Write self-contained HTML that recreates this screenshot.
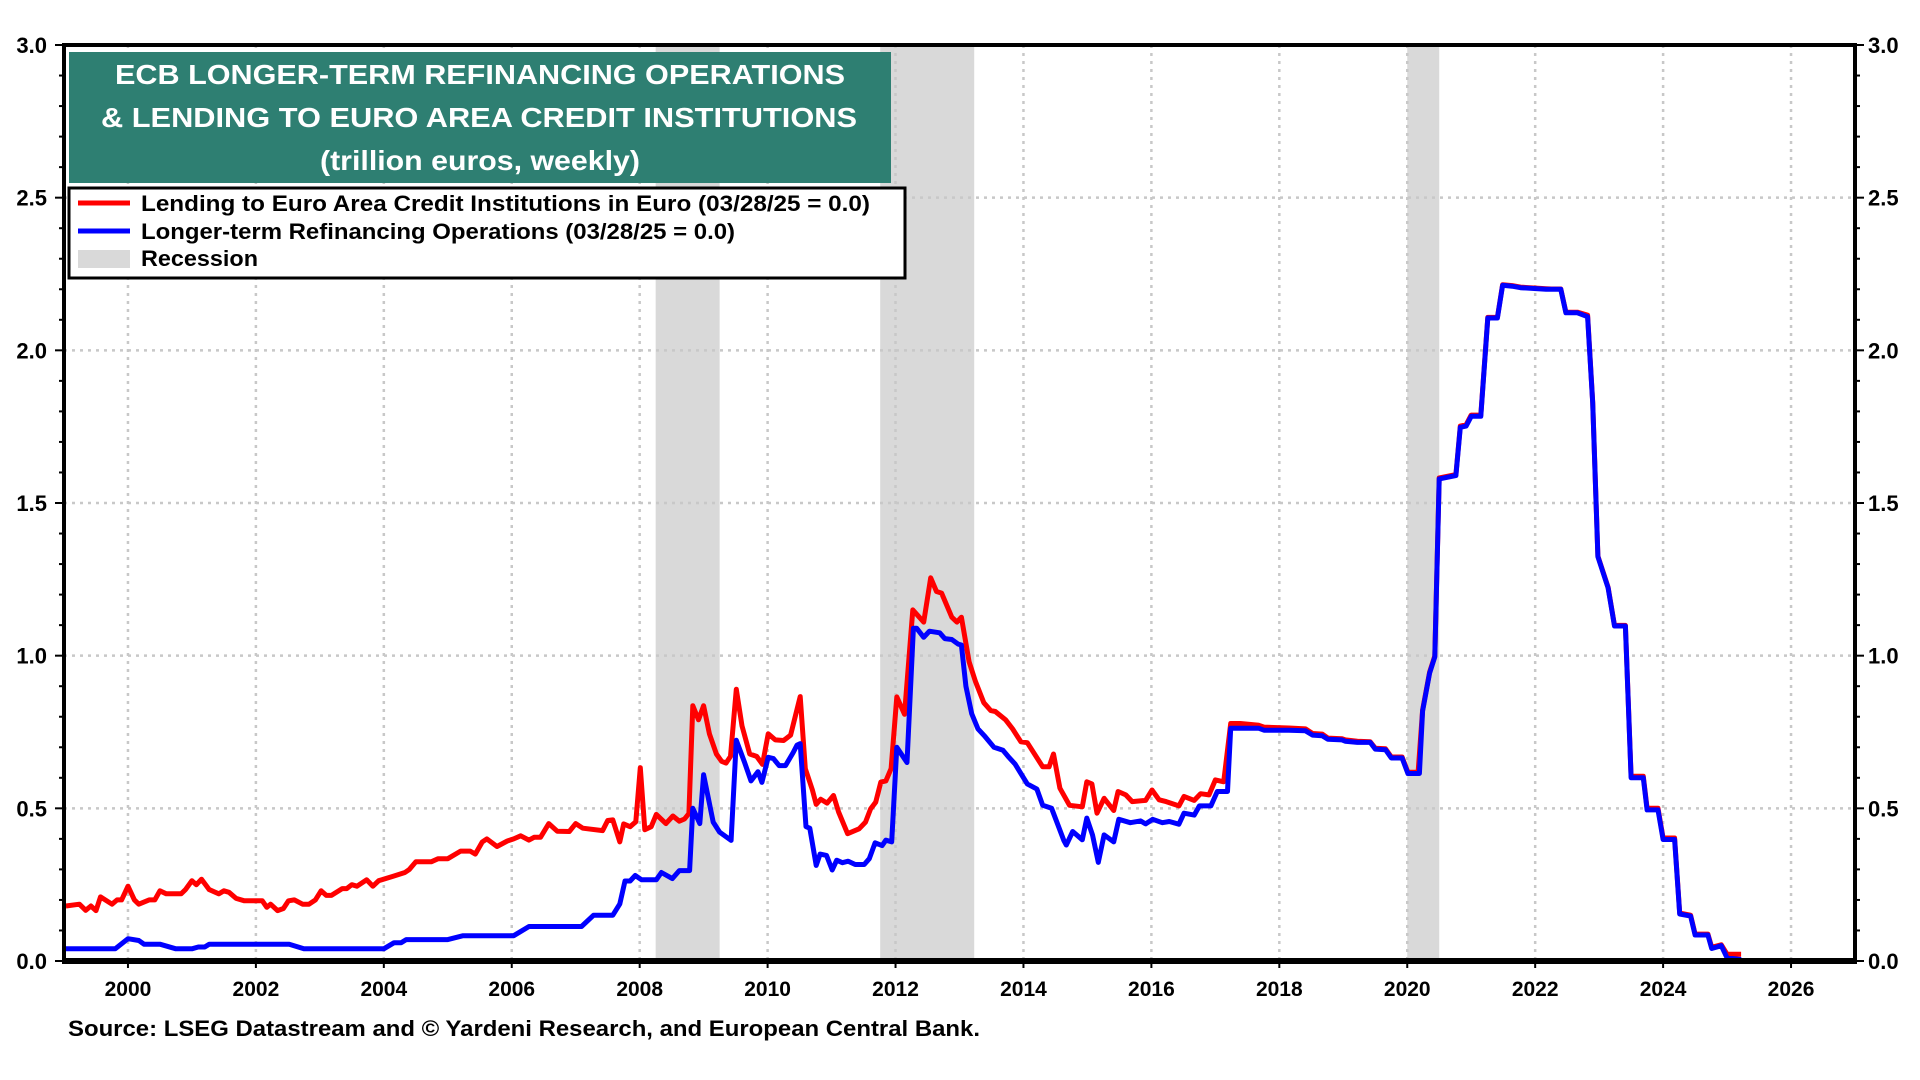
<!DOCTYPE html>
<html><head><meta charset="utf-8"><style>
html,body{margin:0;padding:0;background:#fff;}
svg{display:block;font-family:"Liberation Sans",Arial,sans-serif;font-weight:bold;}
</style></head><body>
<svg id="chart" width="1920" height="1080" viewBox="0 0 1920 1080" xmlns="http://www.w3.org/2000/svg">
<g id="rec"></g>
<g id="grid"></g>
<g id="series"></g>
<g id="axes"></g>
<g>
<rect x="69" y="52" width="822" height="131" fill="#2e7f72"/>
<text x="480" y="84" text-anchor="middle" fill="#fff" font-size="28" textLength="730" lengthAdjust="spacingAndGlyphs">ECB LONGER-TERM REFINANCING OPERATIONS</text>
<text x="479" y="127" text-anchor="middle" fill="#fff" font-size="28" textLength="756" lengthAdjust="spacingAndGlyphs">&amp; LENDING TO EURO AREA CREDIT INSTITUTIONS</text>
<text x="480" y="170" text-anchor="middle" fill="#fff" font-size="28" textLength="320" lengthAdjust="spacingAndGlyphs">(trillion euros, weekly)</text>
</g>
<g>
<rect x="69" y="188" width="836" height="90" fill="#fff" stroke="#000" stroke-width="3"/>
<line x1="78" y1="203" x2="130" y2="203" stroke="#ff0000" stroke-width="5"/>
<text x="141" y="211" font-size="22" textLength="729" lengthAdjust="spacingAndGlyphs">Lending to Euro Area Credit Institutions in Euro  (03/28/25 = 0.0)</text>
<line x1="78" y1="231" x2="130" y2="231" stroke="#0000ff" stroke-width="5"/>
<text x="141" y="239" font-size="22" textLength="594" lengthAdjust="spacingAndGlyphs">Longer-term Refinancing Operations (03/28/25 = 0.0)</text>
<rect x="78" y="250" width="52" height="18" fill="#d9d9d9"/>
<text x="141" y="266" font-size="22" textLength="117" lengthAdjust="spacingAndGlyphs">Recession</text>
</g>
<text x="68" y="1036" font-size="22" textLength="912" lengthAdjust="spacingAndGlyphs">Source: LSEG Datastream and © Yardeni Research, and European Central Bank.</text>
</svg>
<script>
const recStart=[2008.25,2011.76,2020.0];
const recEnd=[2009.25,2013.23,2020.5];
const yTicks=[0,0.5,1.0,1.5,2.0,2.5,3.0];
const yTickLabels=["0.0","0.5","1.0","1.5","2.0","2.5","3.0"];
const xTicks=[2000,2002,2004,2006,2008,2010,2012,2014,2016,2018,2020,2022,2024,2026];
const redDates=[1999.03,1999.24,1999.34,1999.42,1999.5,1999.57,1999.75,1999.83,1999.9,2000.0,2000.1,2000.17,2000.33,2000.42,2000.5,2000.6,2000.83,2000.9,2001.0,2001.07,2001.15,2001.27,2001.42,2001.5,2001.58,2001.69,2001.82,2002.1,2002.17,2002.23,2002.34,2002.43,2002.51,2002.6,2002.73,2002.83,2002.93,2003.02,2003.1,2003.18,2003.35,2003.42,2003.5,2003.58,2003.73,2003.83,2003.92,2004.14,2004.33,2004.4,2004.5,2004.74,2004.85,2005.0,2005.2,2005.35,2005.43,2005.54,2005.61,2005.77,2005.93,2006.03,2006.14,2006.27,2006.35,2006.45,2006.58,2006.71,2006.9,2007.0,2007.11,2007.42,2007.5,2007.58,2007.69,2007.75,2007.85,2007.94,2008.01,2008.08,2008.18,2008.26,2008.41,2008.52,2008.62,2008.7,2008.77,2008.83,2008.92,2009.0,2009.09,2009.2,2009.28,2009.35,2009.42,2009.51,2009.6,2009.72,2009.83,2009.92,2010.01,2010.12,2010.25,2010.36,2010.51,2010.59,2010.7,2010.76,2010.83,2010.93,2011.03,2011.11,2011.25,2011.43,2011.53,2011.61,2011.69,2011.77,2011.85,2011.93,2012.02,2012.14,2012.27,2012.44,2012.55,2012.64,2012.72,2012.88,2012.96,2013.03,2013.15,2013.25,2013.38,2013.49,2013.56,2013.72,2013.83,2013.96,2014.06,2014.3,2014.4,2014.47,2014.57,2014.72,2014.92,2014.99,2015.07,2015.15,2015.26,2015.41,2015.48,2015.6,2015.7,2015.91,2016.01,2016.12,2016.23,2016.43,2016.51,2016.67,2016.77,2016.9,2017.0,2017.13,2017.24,2017.39,2017.68,2017.76,2018.15,2018.41,2018.52,2018.67,2018.76,2018.98,2019.03,2019.22,2019.42,2019.5,2019.66,2019.75,2019.92,2020.01,2020.17,2020.24,2020.35,2020.43,2020.5,2020.76,2020.83,2020.92,2021.0,2021.15,2021.26,2021.41,2021.49,2021.64,2021.77,2022.17,2022.25,2022.4,2022.48,2022.66,2022.82,2022.9,2022.98,2023.14,2023.24,2023.41,2023.5,2023.69,2023.75,2023.92,2024.0,2024.18,2024.26,2024.43,2024.5,2024.7,2024.76,2024.91,2025.0,2025.22];
const redValues=[0.18,0.186,0.166,0.18,0.165,0.21,0.186,0.2,0.2,0.245,0.2,0.186,0.2,0.2,0.23,0.22,0.22,0.234,0.263,0.25,0.268,0.234,0.22,0.23,0.225,0.205,0.197,0.197,0.176,0.186,0.165,0.172,0.197,0.2,0.186,0.186,0.2,0.23,0.215,0.215,0.237,0.237,0.25,0.245,0.266,0.245,0.263,0.277,0.29,0.3,0.325,0.325,0.335,0.335,0.36,0.36,0.35,0.39,0.4,0.375,0.393,0.4,0.41,0.396,0.405,0.405,0.45,0.425,0.424,0.45,0.435,0.427,0.46,0.462,0.39,0.449,0.44,0.456,0.633,0.43,0.44,0.48,0.45,0.475,0.458,0.465,0.483,0.836,0.79,0.836,0.744,0.678,0.654,0.648,0.67,0.89,0.77,0.678,0.67,0.644,0.744,0.724,0.722,0.74,0.866,0.63,0.56,0.513,0.53,0.517,0.542,0.488,0.417,0.433,0.455,0.498,0.52,0.586,0.59,0.63,0.865,0.808,1.15,1.11,1.255,1.21,1.205,1.126,1.11,1.126,0.98,0.915,0.846,0.82,0.817,0.79,0.76,0.718,0.715,0.636,0.636,0.678,0.566,0.51,0.505,0.587,0.58,0.484,0.533,0.493,0.555,0.544,0.522,0.526,0.56,0.528,0.522,0.508,0.539,0.526,0.548,0.544,0.593,0.587,0.778,0.778,0.772,0.766,0.763,0.76,0.745,0.743,0.73,0.728,0.724,0.72,0.718,0.697,0.695,0.668,0.668,0.618,0.618,0.822,0.946,0.999,1.582,1.593,1.752,1.756,1.788,1.788,2.108,2.108,2.215,2.212,2.207,2.202,2.201,2.201,2.125,2.125,2.115,1.83,1.326,1.224,1.099,1.099,0.605,0.605,0.5,0.5,0.403,0.403,0.157,0.15,0.088,0.088,0.045,0.053,0.022,0.022];
const blueDates=[1999.0,1999.8,2000.0,2000.17,2000.25,2000.5,2000.75,2001.0,2001.1,2001.2,2001.27,2002.52,2002.75,2004.0,2004.16,2004.27,2004.35,2005.0,2005.24,2006.03,2006.27,2007.09,2007.28,2007.58,2007.69,2007.77,2007.85,2007.93,2008.03,2008.26,2008.34,2008.51,2008.62,2008.78,2008.83,2008.94,2009.0,2009.15,2009.25,2009.43,2009.51,2009.64,2009.74,2009.85,2009.91,2010.01,2010.09,2010.18,2010.28,2010.4,2010.46,2010.51,2010.6,2010.66,2010.76,2010.82,2010.92,2011.01,2011.08,2011.17,2011.26,2011.37,2011.51,2011.59,2011.68,2011.79,2011.85,2011.94,2012.02,2012.18,2012.28,2012.33,2012.44,2012.53,2012.69,2012.77,2012.88,2012.98,2013.03,2013.1,2013.19,2013.29,2013.4,2013.54,2013.68,2013.76,2013.87,2014.06,2014.21,2014.3,2014.44,2014.63,2014.67,2014.77,2014.92,2014.99,2015.08,2015.17,2015.26,2015.41,2015.49,2015.67,2015.83,2015.91,2016.02,2016.17,2016.28,2016.43,2016.51,2016.67,2016.75,2016.93,2017.03,2017.19,2017.24,2017.68,2017.76,2018.15,2018.41,2018.52,2018.67,2018.76,2018.98,2019.03,2019.22,2019.42,2019.5,2019.66,2019.75,2019.92,2020.01,2020.19,2020.24,2020.35,2020.43,2020.5,2020.76,2020.83,2020.92,2021.0,2021.15,2021.26,2021.41,2021.49,2021.64,2021.77,2022.17,2022.4,2022.48,2022.66,2022.82,2022.9,2022.98,2023.14,2023.24,2023.41,2023.5,2023.69,2023.75,2023.92,2024.0,2024.18,2024.26,2024.43,2024.5,2024.7,2024.76,2024.91,2025.0,2025.22];
const blueValues=[0.04,0.04,0.073,0.067,0.055,0.055,0.04,0.04,0.046,0.046,0.055,0.055,0.04,0.04,0.06,0.06,0.07,0.07,0.083,0.083,0.113,0.113,0.15,0.15,0.187,0.262,0.262,0.28,0.266,0.266,0.29,0.27,0.296,0.296,0.5,0.45,0.61,0.455,0.422,0.395,0.723,0.65,0.59,0.62,0.585,0.667,0.663,0.64,0.64,0.683,0.707,0.712,0.44,0.435,0.313,0.35,0.346,0.298,0.33,0.322,0.327,0.316,0.316,0.335,0.387,0.378,0.396,0.39,0.7,0.65,1.09,1.09,1.06,1.08,1.075,1.056,1.053,1.038,1.035,0.9,0.81,0.76,0.735,0.7,0.69,0.67,0.645,0.58,0.563,0.51,0.5,0.395,0.38,0.424,0.397,0.468,0.413,0.323,0.413,0.39,0.464,0.453,0.459,0.449,0.464,0.453,0.457,0.448,0.484,0.478,0.508,0.508,0.555,0.555,0.762,0.762,0.756,0.756,0.754,0.74,0.738,0.726,0.724,0.72,0.716,0.716,0.694,0.692,0.665,0.665,0.614,0.614,0.819,0.943,0.996,1.579,1.59,1.748,1.752,1.784,1.784,2.106,2.106,2.213,2.21,2.205,2.2,2.2,2.123,2.123,2.11,1.828,1.324,1.222,1.097,1.097,0.6,0.6,0.495,0.495,0.398,0.398,0.154,0.147,0.085,0.085,0.041,0.05,0.01,0.005];

const L=64,R=1855,T=45,B=961,X0=1999.0,X1=2027.0,Y0=0,Y1=3;
function xs(v){return L+(v-X0)/(X1-X0)*(R-L);}
function ys(v){return B-(v-Y0)/(Y1-Y0)*(B-T);}
const NS="http://www.w3.org/2000/svg";
function mk(tag,attrs,parent){const e=document.createElementNS(NS,tag);for(const k in attrs)e.setAttribute(k,attrs[k]);parent.appendChild(e);return e;}
const rec=document.getElementById('rec'),grid=document.getElementById('grid'),ser=document.getElementById('series'),ax=document.getElementById('axes');
for(let i=0;i<recStart.length;i++){
  const r=mk('rect',{x:xs(recStart[i]),y:T,width:xs(recEnd[i])-xs(recStart[i]),height:B-T,fill:'#d9d9d9'},rec);
  
  
}
for(const t of xTicks){
  const g=mk('line',{x1:xs(t),x2:xs(t),y1:T,y2:B,stroke:'#c8c8c8','stroke-width':2.5,'stroke-dasharray':'3,5'},grid);
  
  
  const lb=mk('text',{x:xs(t),y:996,'text-anchor':'middle','font-size':21},ax);
  lb.textContent=String(t);
  
  
  mk('line',{x1:xs(t),x2:xs(t),y1:B,y2:B+7,stroke:'#000','stroke-width':2},ax);
}
for(let i=0;i<yTicks.length;i++){
  const v=yTicks[i];
  if(v>0&&v<3){
    const g=mk('line',{x1:L,x2:R,y1:ys(v),y2:ys(v),stroke:'#c8c8c8','stroke-width':2.5,'stroke-dasharray':'3,5'},grid);
    
    
  }
  const a=mk('text',{x:47,y:ys(v)+8,'text-anchor':'end','font-size':22},ax);
  a.textContent=yTickLabels[i];
  
  
  const b=mk('text',{x:1868,y:ys(v)+8,'text-anchor':'start','font-size':22},ax);
  b.textContent=yTickLabels[i];
  
  
}
for(let k=0;k<=30;k++){
  const v=k/10,len=(k%5===0)?9:5;
  mk('line',{x1:L-len,x2:L,y1:ys(v),y2:ys(v),stroke:'#000','stroke-width':2},ax);
  mk('line',{x1:R,x2:R+len,y1:ys(v),y2:ys(v),stroke:'#000','stroke-width':2},ax);
}
function path(d,v){let s='';for(let i=0;i<d.length;i++)s+=(i?'L':'M')+xs(d[i]).toFixed(1)+','+ys(v[i]).toFixed(1);return s;}
const pr=mk('path',{d:path(redDates,redValues),fill:'none',stroke:'#ff0000','stroke-width':5,'stroke-linejoin':'round'},ser);


const pb=mk('path',{d:path(blueDates,blueValues),fill:'none',stroke:'#0000ff','stroke-width':5,'stroke-linejoin':'round'},ser);


const fr=mk('rect',{x:L,y:T,width:R-L,height:B-T,fill:'none',stroke:'#000','stroke-width':4},ax);


mk('line',{x1:L-2,x2:R+2,y1:B,y2:B,stroke:'#000','stroke-width':6},ax);
</script>
</body></html>
